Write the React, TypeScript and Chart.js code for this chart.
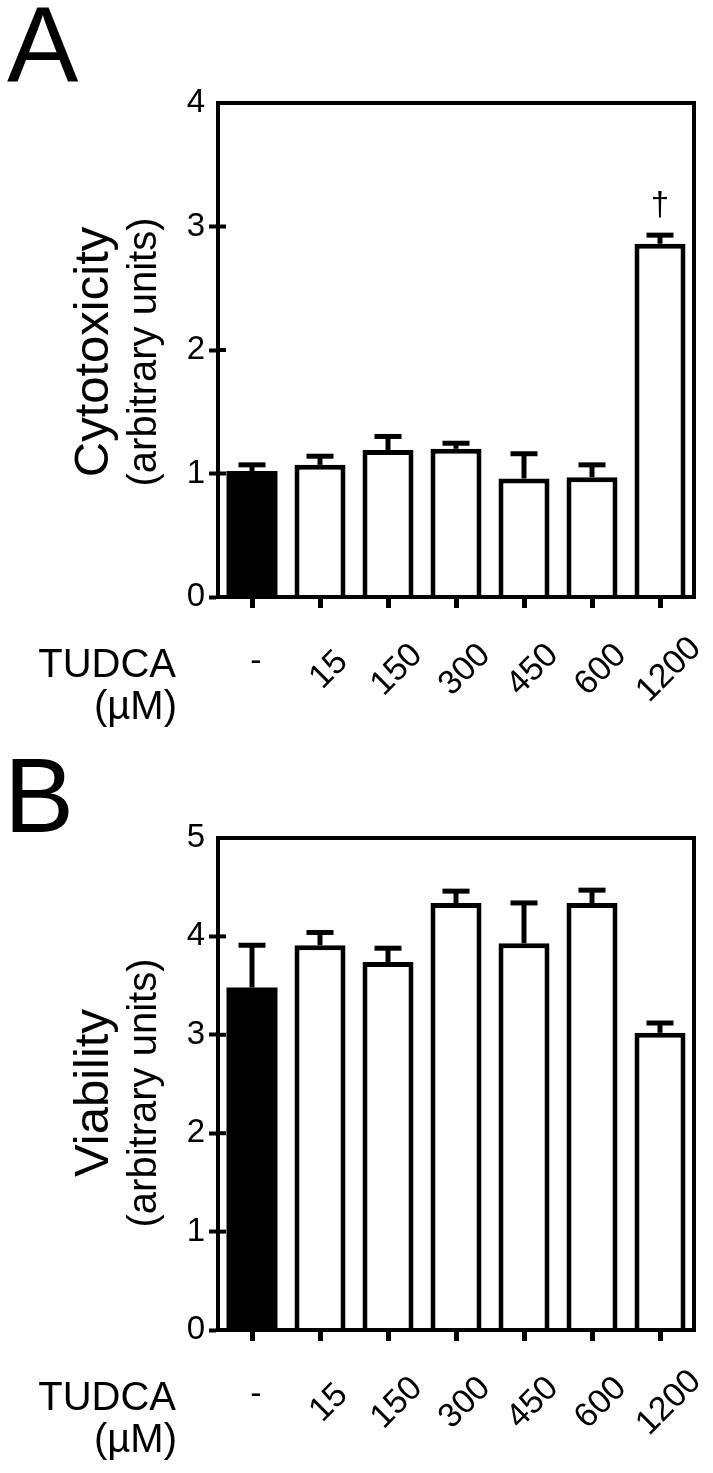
import React, { useEffect, useRef } from "react";
import { Chart, registerables } from "chart.js";

Chart.register(...registerables);

// ---------- data ----------
const categories = ["-", "15", "150", "300", "450", "600", "1200"];
const cytoMean = [1.02, 1.07, 1.19, 1.2, 0.96, 0.97, 2.86];
const cytoUpper = [1.07, 1.14, 1.3, 1.245, 1.16, 1.07, 2.93];
const cytoMarks = ["", "", "", "", "", "", "†"];
const cytoTicks = [0, 1, 2, 3, 4];
const viabMean = [3.48, 3.91, 3.74, 4.34, 3.93, 4.34, 3.02];
const viabUpper = [3.91, 4.04, 3.88, 4.46, 4.34, 4.47, 3.12];
const viabMarks = ["", "", "", "", "", "", ""];
const viabTicks = [0, 1, 2, 3, 4, 5];
const barFills = ["#000000", "#ffffff", "#ffffff", "#ffffff", "#ffffff", "#ffffff", "#ffffff"];

const INK = "#000000";
const FAMILY = "'Liberation Sans', Arial, Helvetica, sans-serif";

type Spec = {
  top: number;
  height: number;
  letter: string;
  letterSize: number;
  letterX: number;
  letterY: number;
  title: string;
  titleSize: number;
  titleX: number;
  subX: number;
  titleCY: number;
  means: number[];
  uppers: number[];
  marks: string[];
  yTicks: number[];
  plotBottom: number;
  unitY: number;
  labelCY: number;
};

const panelA: Spec = {
  top: 0,
  height: 735,
  letter: "A",
  letterSize: 107,
  letterX: 7,
  letterY: 82,
  title: "Cytotoxicity",
  titleSize: 49,
  titleX: 108,
  subX: 156,
  titleCY: 352,
  means: cytoMean,
  uppers: cytoUpper,
  marks: cytoMarks,
  yTicks: cytoTicks,
  plotBottom: 597,
  unitY: 677,
  labelCY: 670,
};

const panelB: Spec = {
  top: 735,
  height: 738,
  letter: "B",
  letterSize: 105,
  letterX: 4,
  letterY: 97,
  title: "Viability",
  titleSize: 49,
  titleX: 108,
  subX: 156,
  titleCY: 358,
  means: viabMean,
  uppers: viabUpper,
  marks: viabMarks,
  yTicks: viabTicks,
  plotBottom: 595,
  unitY: 675,
  labelCY: 668,
};

function Panel({ spec }: { spec: Spec }) {
  const ref = useRef<HTMLCanvasElement>(null);

  useEffect(() => {
    const canvas = ref.current;
    if (!canvas) return;
    const yMax = spec.yTicks[spec.yTicks.length - 1];

    const decor = {
      id: "decor",
      afterDatasetsDraw(chart: any) {
        const ctx = chart.ctx;
        const meta = chart.getDatasetMeta(0);
        const ys = chart.scales.y;
        ctx.save();
        ctx.strokeStyle = INK;
        ctx.fillStyle = INK;
        ctx.lineWidth = 5;
        ctx.lineCap = "butt";
        spec.means.forEach((m, i) => {
          const bx = meta.data[i].x;
          const y0 = ys.getPixelForValue(m);
          const y1 = ys.getPixelForValue(spec.uppers[i]);
          ctx.beginPath();
          ctx.moveTo(bx, y0);
          ctx.lineTo(bx, y1);
          ctx.stroke();
          ctx.beginPath();
          ctx.moveTo(bx - 13.5, y1);
          ctx.lineTo(bx + 13.5, y1);
          ctx.stroke();
          if (spec.marks[i]) {
            ctx.font = `33px ${FAMILY}`;
            ctx.textAlign = "center";
            ctx.textBaseline = "alphabetic";
            ctx.fillText(spec.marks[i], bx, y1 - 20);
          }
        });
        ctx.restore();
      },
      afterDraw(chart: any) {
        const ctx = chart.ctx;
        const { left, right, top, bottom } = chart.chartArea;
        const ys = chart.scales.y;
        const xs = chart.scales.x;
        ctx.save();
        ctx.strokeStyle = INK;
        ctx.fillStyle = INK;
        ctx.lineWidth = 4;
        ctx.lineJoin = "miter";
        ctx.strokeRect(left, top, right - left, bottom - top);
        // inner half of the y tick marks
        spec.yTicks.forEach((v) => {
          if (v === yMax || v === 0) return;
          const py = ys.getPixelForValue(v);
          ctx.beginPath();
          ctx.moveTo(left, py);
          ctx.lineTo(left + 8, py);
          ctx.stroke();
        });

        // panel letter
        ctx.font = `${spec.letterSize}px ${FAMILY}`;
        ctx.textAlign = "left";
        ctx.textBaseline = "alphabetic";
        ctx.fillText(spec.letter, spec.letterX, spec.letterY);

        // y titles
        ctx.save();
        ctx.translate(spec.titleX, spec.titleCY);
        ctx.rotate(-Math.PI / 2);
        ctx.textAlign = "center";
        ctx.font = `${spec.titleSize}px ${FAMILY}`;
        ctx.fillText(spec.title, 0, 0);
        ctx.restore();
        ctx.save();
        ctx.translate(spec.subX, spec.titleCY);
        ctx.rotate(-Math.PI / 2);
        ctx.textAlign = "center";
        ctx.font = `40px ${FAMILY}`;
        ctx.fillText("(arbitrary units)", 0, 0);
        ctx.restore();

        // x axis caption
        ctx.font = `40px ${FAMILY}`;
        ctx.textAlign = "right";
        ctx.fillText("TUDCA", 176, spec.unitY);
        ctx.fillText("(\u00b5M)", 177, spec.unitY + 42);

        // category labels
        ctx.font = `34px ${FAMILY}`;
        categories.forEach((lab, i) => {
          const tx = xs.getPixelForTick(i);
          ctx.save();
          if (lab === "-") {
            ctx.translate(tx + 4, spec.labelCY - 8);
          } else {
            ctx.translate(tx + 9, spec.labelCY);
            ctx.rotate(-Math.PI / 4);
          }
          ctx.textAlign = "center";
          ctx.textBaseline = "middle";
          ctx.fillText(lab, 0, 0);
          ctx.restore();
        });
        ctx.restore();
      },
    };

    const chart = new Chart(canvas, {
      type: "bar",
      data: {
        labels: categories,
        datasets: [
          {
            data: spec.means,
            backgroundColor: barFills,
            borderColor: INK,
            borderWidth: (c: any) => (c.dataIndex === 0 ? 0 : 5),
            borderSkipped: "start",
            barPercentage: 0.75,
            categoryPercentage: 1,
          },
        ],
      },
      options: {
        animation: false,
        responsive: false,
        devicePixelRatio: 1,
        layout: {
          padding: {
            left: 158,
            right: 19,
            top: 103,
            bottom: spec.height - spec.plotBottom - 20,
          },
        },
        plugins: {
          legend: { display: false },
          tooltip: { enabled: false },
        },
        scales: {
          x: {
            offset: true,
            grid: {
              offset: false,
              drawOnChartArea: false,
              drawTicks: true,
              tickLength: 11,
              tickWidth: 5,
              tickColor: INK,
            },
            border: { display: true, color: INK, width: 4 },
            ticks: { display: false },
            afterFit: (s: any) => {
              s.height = 20;
            },
          },
          y: {
            min: 0,
            max: yMax,
            afterBuildTicks: (s: any) => {
              s.ticks = spec.yTicks.map((v) => ({ value: v }));
            },
            ticks: {
              font: { family: FAMILY, size: 33 },
              color: INK,
              padding: 4,
              callback: (v: any) => String(v),
            },
            grid: {
              drawOnChartArea: false,
              drawTicks: true,
              tickLength: 9,
              tickWidth: 4,
              tickColor: (c: any) =>
                c.tick && c.tick.value === yMax ? "rgba(0,0,0,0)" : INK,
            },
            border: { display: true, color: INK, width: 4 },
            afterFit: (s: any) => {
              s.width = 60;
            },
          },
        },
      },
      plugins: [decor],
    } as any);

    return () => chart.destroy();
  }, [spec]);

  return (
    <canvas
      ref={ref}
      width={713}
      height={spec.height}
      style={{
        position: "absolute",
        left: 0,
        top: spec.top,
        width: 713,
        height: spec.height,
      }}
    />
  );
}

export default function App() {
  return (
    <div style={{ position: "absolute", left: 0, top: 0, width: 713, height: 1473, background: "#ffffff" }}>
      <Panel spec={panelA} />
      <Panel spec={panelB} />
    </div>
  );
}
